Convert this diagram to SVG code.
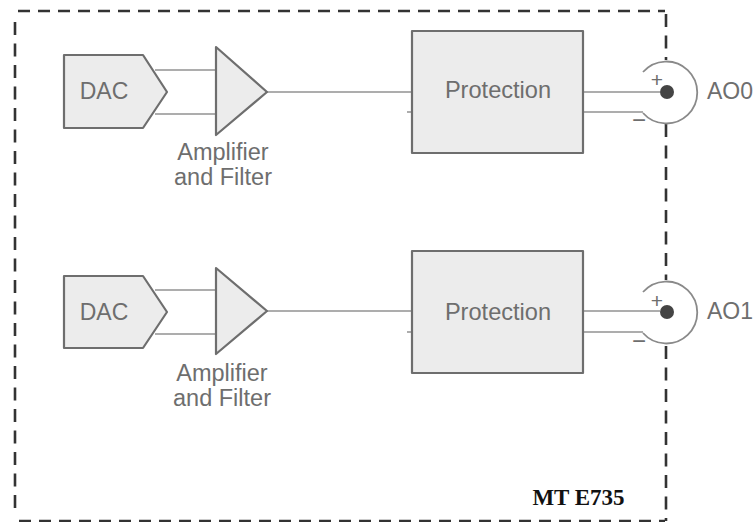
<svg xmlns="http://www.w3.org/2000/svg" width="756" height="522" viewBox="0 0 756 522">
<style>
.s{fill:#ececec;stroke:#6e6e6e;stroke-width:2.2;stroke-linejoin:round}
.w{fill:none;stroke:#adadad;stroke-width:1.8}
.a{fill:none;stroke:#8a8a8a;stroke-width:1.8}
.t{font-family:"Liberation Sans",Arial,sans-serif;fill:#6e6e6e;font-size:23px}
.m{text-anchor:middle}
.n{font-size:23.5px}
.p{font-size:23.6px}
.l{font-size:23px}
.pl{font-size:21px}
.mi{font-size:24px}
.h{fill:none;stroke:#333;stroke-width:2.6;stroke-dasharray:12 8}
.v{fill:none;stroke:#333;stroke-width:2.6;stroke-dasharray:13 8.5}
.d{fill:#444}
</style>
<rect width="756" height="522" fill="#fff"/>
<g id="connectors">
<path class="w" d="M155 70H216M155 114H216M267 92H412M407 112H412"/>
<path class="w" d="M155 290H216M155 334H216M267 311H412M407 332H412"/>
<path class="w" d="M583 92H660M583 112H643"/>
<path class="w" d="M583 311H660M583 332H643"/>
</g>
<g id="boundary">
<path class="h" d="M15 11H665M16 521H665" stroke-dashoffset="-3"/>
<path class="v" d="M15 22V515M666 14V60M666 124V280M666 346V521"/>
<text x="578.500" y="505" font-family="'Liberation Serif','Times New Roman',serif" font-size="23" font-weight="700" text-anchor="middle" fill="#111" letter-spacing="0">MT E735</text>
</g>
<g id="dac0"><path class="s" d="M64 55H143L167 92L143 128H64Z"/><text class="t m" x="104" y="99">DAC</text></g>
<g id="amp0"><path class="s" d="M216 47L267 92L216 135Z"/><text class="t m n" x="223" y="160">Amplifier</text><text class="t m n" x="223" y="185">and Filter</text></g>
<g id="prot0"><rect class="s" x="412" y="31" width="171" height="122"/><text class="t m p" x="498" y="98">Protection</text></g>
<g id="ao0"><path class="a" d="M643 72A31 31 0 1 1 643 113"/><circle class="d" cx="667" cy="92" r="7"/><text class="t l" x="707" y="99">AO0</text><text class="t m pl" x="657" y="87">+</text><text class="t m mi" x="639" y="128">−</text></g>
<g id="dac1"><path class="s" d="M64 276H143L167 312L143 348H64Z"/><text class="t m" x="104" y="320">DAC</text></g>
<g id="amp1"><path class="s" d="M216 268L267 311L216 354Z"/><text class="t m n" x="222" y="381">Amplifier</text><text class="t m n" x="222" y="406">and Filter</text></g>
<g id="prot1"><rect class="s" x="412" y="251" width="171" height="122"/><text class="t m p" x="498" y="320">Protection</text></g>
<g id="ao1"><path class="a" d="M643 292A31 31 0 1 1 643 333"/><circle class="d" cx="667" cy="312" r="7"/><text class="t l" x="707" y="319">AO1</text><text class="t m pl" x="657" y="308">+</text><text class="t m mi" x="639" y="349">−</text></g>
</svg>
